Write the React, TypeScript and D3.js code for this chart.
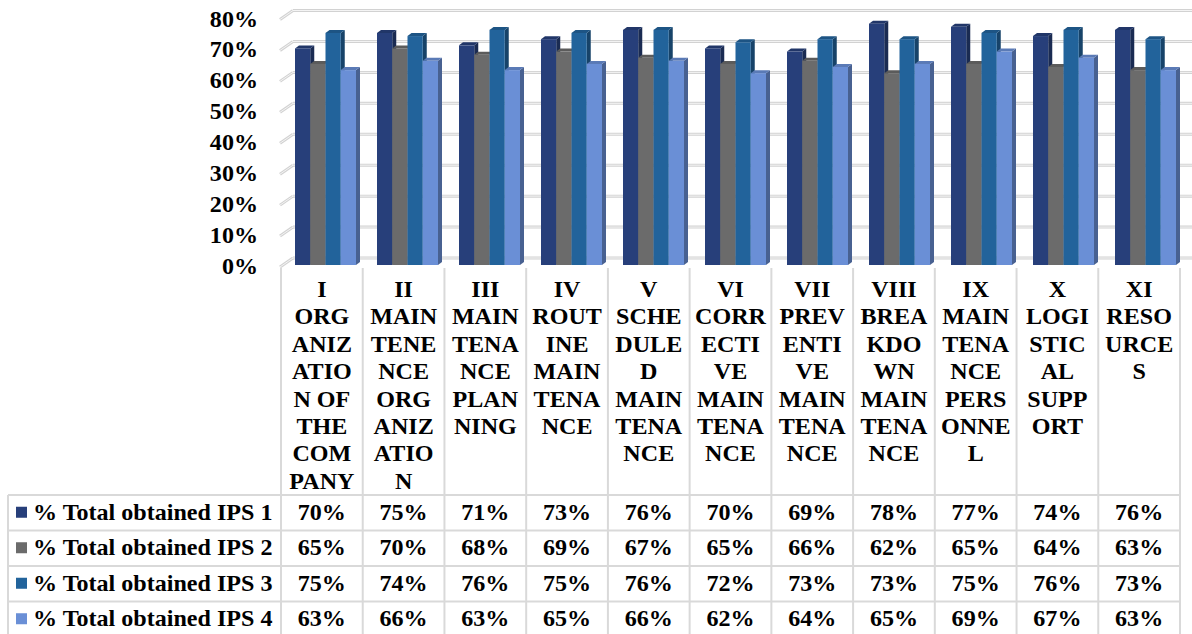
import React from "react";
import * as d3 from "d3";

// Category labels, already broken into the lines shown under each column
const categoryLines: string[][] = [
  ["I", "ORG", "ANIZ", "ATIO", "N OF", "THE", "COM", "PANY"],
  ["II", "MAIN", "TENE", "NCE", "ORG", "ANIZ", "ATIO", "N"],
  ["III", "MAIN", "TENA", "NCE", "PLAN", "NING"],
  ["IV", "ROUT", "INE", "MAIN", "TENA", "NCE"],
  ["V", "SCHE", "DULE", "D", "MAIN", "TENA", "NCE"],
  ["VI", "CORR", "ECTI", "VE", "MAIN", "TENA", "NCE"],
  ["VII", "PREV", "ENTI", "VE", "MAIN", "TENA", "NCE"],
  ["VIII", "BREA", "KDO", "WN", "MAIN", "TENA", "NCE"],
  ["IX", "MAIN", "TENA", "NCE", "PERS", "ONNE", "L"],
  ["X", "LOGI", "STIC", "AL", "SUPP", "ORT"],
  ["XI", "RESO", "URCE", "S"],
];
const categories = categoryLines.map((l) => l[0]);

const seriesNames = [
  "% Total obtained IPS 1",
  "% Total obtained IPS 2",
  "% Total obtained IPS 3",
  "% Total obtained IPS 4",
];

const ips1 = [0.70, 0.75, 0.71, 0.73, 0.76, 0.70, 0.69, 0.78, 0.77, 0.74, 0.76];
const ips2 = [0.65, 0.70, 0.68, 0.69, 0.67, 0.65, 0.66, 0.62, 0.65, 0.64, 0.63];
const ips3 = [0.75, 0.74, 0.76, 0.75, 0.76, 0.72, 0.73, 0.73, 0.75, 0.76, 0.73];
const ips4 = [0.63, 0.66, 0.63, 0.65, 0.66, 0.62, 0.64, 0.65, 0.69, 0.67, 0.63];
const seriesValues = [ips1, ips2, ips3, ips4];

const yTicks = [0, 0.1, 0.2, 0.3, 0.4, 0.5, 0.6, 0.7, 0.8];

const seriesColors = ["#273f7a", "#6b6b6b", "#22639b", "#6a8fd6"];

const W = 1192;
const H = 634;
const FONT = "'Liberation Serif', 'Times New Roman', serif";
const FS = 22.5;
const SX = 1.07;

// front plane of the 3D plot
const y = d3.scaleLinear().domain([0, 0.8]).range([267, 19.5]);
// table columns
const xCol = d3.scaleBand<string>().domain(categories).range([281, 1180]);
// bar clusters (shifted back into the plot depth)
const xCluster = d3
  .scaleBand<string>()
  .domain(categories)
  .range([295, 295 + 82 * categories.length]);
const xSeries = d3.scaleBand<string>().domain(seriesNames).range([0, 61]);

const DEPTH_X = 13;
const DEPTH_Y = -9;
const BAR_DX = 4;
const BAR_DY = -3;
const BAR_LIFT = -2;

const fmt = d3.format(".0%");

const rowTop = 495;
const rowH = 35.5;

function T({
  x,
  y: ty,
  anchor,
  children,
}: {
  x: number;
  y: number;
  anchor: "start" | "middle" | "end";
  children: React.ReactNode;
}) {
  return (
    <text
      transform={`translate(${x},${ty}) scale(${SX},1)`}
      textAnchor={anchor}
      fontFamily={FONT}
      fontWeight="bold"
      fontSize={FS}
      fill="#000"
    >
      {children}
    </text>
  );
}

function Bar({ x, w, v, color }: { x: number; w: number; v: number; color: string }) {
  const yb = y(0) + BAR_LIFT;
  const yt = y(v) + BAR_LIFT;
  const c = d3.color(color)!;
  const top = c.darker(0.45).formatHex();
  const side = c.darker(1.1).formatHex();
  return (
    <g>
      <polygon
        points={`${x + w},${yt} ${x + w + BAR_DX},${yt + BAR_DY} ${x + w + BAR_DX},${yb + BAR_DY} ${x + w},${yb}`}
        fill={side}
      />
      <polygon
        points={`${x},${yt} ${x + BAR_DX},${yt + BAR_DY} ${x + w + BAR_DX},${yt + BAR_DY} ${x + w},${yt}`}
        fill={top}
      />
      <rect x={x} y={yt} width={w} height={yb - yt} fill={color} />
    </g>
  );
}

export default function App() {
  const gridColor = "#d2d2d2";
  const tableLine = "#d9d9d9";
  return (
    <svg
      width={W}
      height={H}
      viewBox={`0 0 ${W} ${H}`}
      style={{ position: "absolute", left: 0, top: 0, background: "#fff" }}
    >
      <rect width={W} height={H} fill="#fff" />
      {/* back wall gridlines and side-wall diagonals */}
      {yTicks.map((t) => {
        const yy = y(t);
        return (
          <g key={t}>
            <line x1={280} y1={yy} x2={280 + DEPTH_X} y2={yy + DEPTH_Y} stroke={gridColor} strokeWidth={3} />
            <line x1={280} y1={yy} x2={280 + DEPTH_X} y2={yy + DEPTH_Y} stroke="#f4f4f4" strokeWidth={1} />
            <line x1={280 + DEPTH_X} y1={yy + DEPTH_Y} x2={W} y2={yy + DEPTH_Y} stroke={gridColor} strokeWidth={3} />
            <line x1={280 + DEPTH_X} y1={yy + DEPTH_Y} x2={W} y2={yy + DEPTH_Y} stroke="#f4f4f4" strokeWidth={1} />
          </g>
        );
      })}

      {/* y axis labels */}
      {yTicks.map((t) => (
        <T key={t} x={258} y={y(t) + 7} anchor="end">
          {fmt(t)}
        </T>
      ))}

      {/* bars */}
      {categories.map((c, ci) => (
        <g key={c}>
          {seriesNames.map((s, si) => (
            <Bar
              key={s}
              x={(xCluster(c) as number) + (xSeries(s) as number)}
              w={xSeries.bandwidth()}
              v={seriesValues[si][ci]}
              color={seriesColors[si]}
            />
          ))}
        </g>
      ))}

      {/* table grid */}
      {[...categories.map((c) => xCol(c) as number), 1180].map((xx, i) => (
        <line key={i} x1={xx} y1={268} x2={xx} y2={H} stroke={tableLine} strokeWidth={2} />
      ))}
      <line x1={8} y1={rowTop} x2={8} y2={H} stroke={tableLine} strokeWidth={2} />
      {seriesNames.map((s, i) => (
        <line key={s} x1={8} y1={rowTop + i * rowH} x2={1180} y2={rowTop + i * rowH} stroke={tableLine} strokeWidth={2} />
      ))}

      {/* category labels */}
      {categoryLines.map((lines, ci) => (
        <g key={ci}>
          {lines.map((ln, li) => (
            <T
              key={li}
              x={(xCol(categories[ci]) as number) + xCol.bandwidth() / 2}
              y={297 + li * 27.4}
              anchor="middle"
            >
              {ln}
            </T>
          ))}
        </g>
      ))}

      {/* data table rows */}
      {seriesNames.map((s, si) => {
        const cy = rowTop + si * rowH + rowH / 2;
        return (
          <g key={s}>
            <rect x={16} y={cy - 6} width={11} height={11} fill={seriesColors[si]} />
            <T x={33} y={cy + 7} anchor="start">
              {s}
            </T>
            {categories.map((c, ci) => (
              <T
                key={c}
                x={(xCol(c) as number) + xCol.bandwidth() / 2}
                y={cy + 7}
                anchor="middle"
              >
                {fmt(seriesValues[si][ci])}
              </T>
            ))}
          </g>
        );
      })}
    </svg>
  );
}
